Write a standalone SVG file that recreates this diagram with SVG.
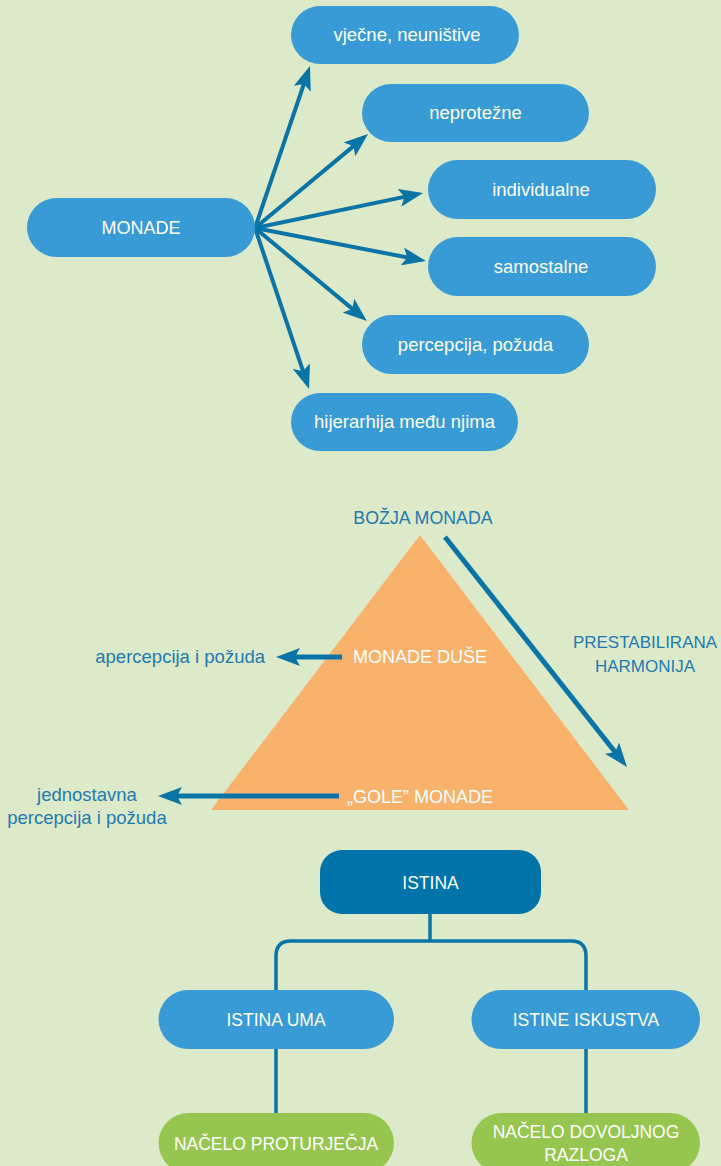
<svg xmlns="http://www.w3.org/2000/svg" width="721" height="1166" viewBox="0 0 721 1166">
<style>
.pill{fill:#389bd6}
.dark{fill:#0074a8}
.green{fill:#96c64f}
.wt{font-family:"Liberation Sans",Arial,sans-serif;font-size:18.5px;fill:#ffffff;text-anchor:middle}
.up{font-size:18px}
.up2{font-size:17.5px}
.bt{font-family:"Liberation Sans",Arial,sans-serif;font-size:18.5px;fill:#1f7ab0}
.bu{font-size:17px}
.arr{stroke:#0a74a7;stroke-width:4;fill:none;marker-end:url(#ah)}
.arr5{stroke:#0a74a7;stroke-width:5;fill:none;marker-end:url(#ah)}
.ln{stroke:#0a74a7;stroke-width:3.5;fill:none}
</style>
<defs>
<marker id="ah" markerUnits="userSpaceOnUse" viewBox="0 0 24 18" markerWidth="24" markerHeight="18" refX="16" refY="9" orient="auto">
<path d="M0,0 L24,9 L0,18 L5,9 z" fill="#0a74a7"/>
</marker>
</defs>
<rect width="721" height="1166" fill="#ddeac9"/>

<g id="connectors">
<path class="arr" d="M255,228 L307.4,73.6"/>
<path class="arr" d="M255,228 L361.9,139.1"/>
<path class="arr" d="M255,228 L415.2,194.6"/>
<path class="arr" d="M255,228 L418.1,259.5"/>
<path class="arr" d="M255,228 L360.8,315.9"/>
<path class="arr" d="M255,228 L306.5,381.4"/>
<path class="ln" d="M430,914 V941 M276,990 V956 Q276,941 291,941 H571 Q586,941 586,956 V990"/>
<path class="ln" d="M276,1049 V1113 M586,1049 V1113"/>
</g>

<g id="monade">
<rect class="pill" x="27" y="198" width="228" height="59" rx="29.5"/>
<text class="wt up" x="141" y="234">MONADE</text>
</g>
<g id="vjecne">
<rect class="pill" x="291" y="6" width="228" height="58" rx="29"/>
<text class="wt" x="407" y="41">vječne, neuništive</text>
</g>
<g id="neprotezne">
<rect class="pill" x="362" y="84" width="227" height="58" rx="29"/>
<text class="wt" x="475.5" y="119">neprotežne</text>
</g>
<g id="individualne">
<rect class="pill" x="428" y="160" width="228" height="59" rx="29.5"/>
<text class="wt" x="541" y="196">individualne</text>
</g>
<g id="samostalne">
<rect class="pill" x="428" y="237" width="228" height="59" rx="29.5"/>
<text class="wt" x="541" y="273">samostalne</text>
</g>
<g id="percepcija">
<rect class="pill" x="362" y="315" width="227" height="59" rx="29.5"/>
<text class="wt" x="475.5" y="351">percepcija, požuda</text>
</g>
<g id="hijerarhija">
<rect class="pill" x="291" y="393" width="227" height="58" rx="29"/>
<text class="wt" x="404.5" y="428">hijerarhija među njima</text>
</g>

<g id="piramida">
<polygon points="420,535 211,810 629,810" fill="#f9b26c"/>
<text class="bt" x="423" y="524" text-anchor="middle" style="font-size:17.8px">BOŽJA MONADA</text>
<text class="wt up" x="420" y="663">MONADE DUŠE</text>
<text class="wt up" x="420" y="803">&#8222;GOLE&#8221; MONADE</text>
<text class="bt" x="265" y="663" text-anchor="end">apercepcija i požuda</text>
<text class="bt" x="87" y="801" text-anchor="middle">jednostavna</text>
<text class="bt" x="87" y="824" text-anchor="middle">percepcija i požuda</text>
<text class="bt bu" x="645" y="648" text-anchor="middle">PRESTABILIRANA</text>
<text class="bt bu" x="645" y="672" text-anchor="middle">HARMONIJA</text>
<path class="arr5" d="M445,537 L622,760.7"/>
<path class="arr5" d="M342,657 L284,657"/>
<path class="arr5" d="M339,796 L166,796"/>
</g>

<g id="istina">
<rect class="dark" x="320" y="850" width="221" height="64" rx="22"/>
<text class="wt up2" x="430.5" y="889">ISTINA</text>
</g>
<g id="istina-uma">
<rect class="pill" x="158.5" y="990" width="235.5" height="59" rx="29.5"/>
<text class="wt up2" x="276" y="1026">ISTINA UMA</text>
</g>
<g id="istine-iskustva">
<rect class="pill" x="471.5" y="990" width="228.5" height="59" rx="29.5"/>
<text class="wt up2" x="586" y="1026">ISTINE ISKUSTVA</text>
</g>
<g id="nacelo-proturjecja">
<rect class="green" x="158.5" y="1113" width="235.5" height="60" rx="30"/>
<text class="wt up2" x="276" y="1150">NAČELO PROTURJEČJA</text>
</g>
<g id="nacelo-dovoljnog-razloga">
<rect class="green" x="471.5" y="1113" width="228.5" height="60" rx="30"/>
<text class="wt up2" x="586" y="1138">NAČELO DOVOLJNOG</text>
<text class="wt up2" x="586" y="1161">RAZLOGA</text>
</g>
</svg>
